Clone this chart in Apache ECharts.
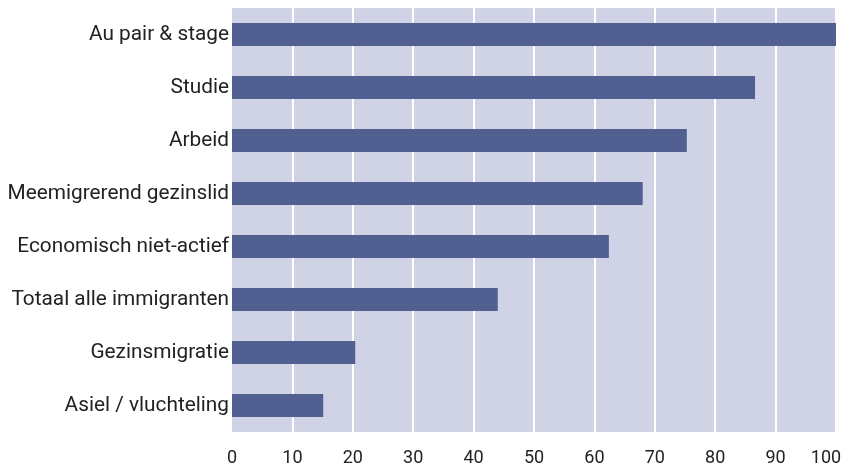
<!DOCTYPE html>
<html><head><meta charset="utf-8">
<script src="https://cdn.jsdelivr.net/npm/echarts@6/dist/echarts.min.js"></script>
<style>html,body{margin:0;padding:0;background:#fff}#c{width:841px;height:468px}</style>
</head><body><div id="c"></div>
<script>
const categories = ["Au pair & stage","Studie","Arbeid","Meemigrerend gezinslid","Economisch niet-actief","Totaal alle immigranten","Gezinsmigratie","Asiel / vluchteling"];
const values = [100, 86.6, 75.3, 68.0, 62.4, 44.0, 20.4, 15.1];
const chart = echarts.init(document.getElementById('c'), null, {renderer:'canvas'});
chart.setOption({
  animation:false,
  grid:{left:232,right:5,top:8,bottom:36,show:true,backgroundColor:'#d0d3e5',borderWidth:0,outerBoundsMode:'none',containLabel:false},
  xAxis:{type:'value',min:0,max:100,interval:10,
    axisLine:{show:false},axisTick:{show:false},
    axisLabel:{color:'#222',fontSize:18,fontFamily:'Roboto',margin:17,hideOverlap:false,
      formatter:function(v){return v===100?'{m|100}':String(v);},
      rich:{m:{color:'#222',fontSize:18,fontFamily:'Roboto',padding:[0,20,0,0]}}},
    splitLine:{show:true,showMinLine:false,lineStyle:{color:'#ffffff',width:2}}},
  yAxis:{type:'category',data:categories,inverse:true,
    axisLine:{show:false},axisTick:{show:false},
    axisLabel:{color:'#222',fontSize:20.8,fontFamily:'Roboto',margin:3}},
  series:[{type:'bar',data:values,barWidth:23,itemStyle:{color:'#525f91'}}]
});
</script></body></html>
